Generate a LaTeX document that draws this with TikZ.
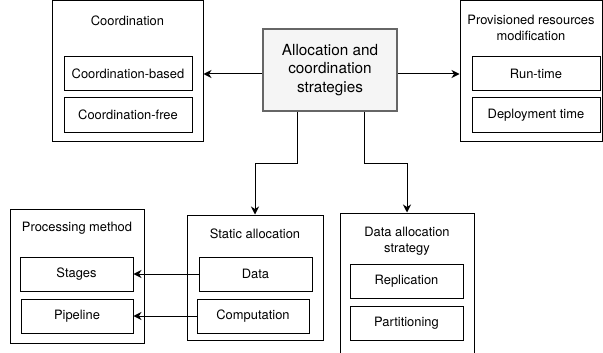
\documentclass[tikz,border=0pt]{standalone}
\usepackage{fontspec}
\setmainfont{TeX Gyre Heros}
\usetikzlibrary{arrows.meta}
\definecolor{hubfill}{HTML}{F5F5F5}
\definecolor{hubline}{HTML}{666666}
\tikzset{
  box/.style={draw=black, line width=1pt, rectangle, inner sep=0pt},
  item/.style={box, minimum width=113pt, minimum height=34pt,
    font=\fontsize{12.9}{15}\selectfont},
  group/.style={box},
  title/.style={font=\fontsize{12.9}{16}\selectfont, align=center, inner sep=0pt},
  hub/.style={draw=hubline, fill=hubfill, line width=2pt, rectangle,
    minimum width=134pt, minimum height=82pt, align=center,
    font=\fontsize{15.3}{18.5}\selectfont},
  arr/.style={draw=black, line width=1pt,
    -{Stealth[length=8pt, width=8pt, inset=2.5pt]}},
}
\begin{document}
\begin{tikzpicture}[x=1pt, y=-1pt]
\useasboundingbox (0,0) rectangle (603,353);

% central hub
\node[hub] (hub) at (330,70) {Allocation and\\coordination\\strategies};

% coordination group
\node[group, minimum width=151pt, minimum height=140pt] (coord) at (127.5,71) {};
\node[title] (coordT) at (127.5,21) {Coordination};
\node[item, minimum width=128pt] (cbased) at (128,74) {Coordination-based};
\node[item, minimum width=128pt] (cfree) at (128,115) {Coordination-free};

% provisioned resources group
\node[group, minimum width=142pt, minimum height=140pt] (prov) at (531,71) {};
\node[title] (provT) at (531,28) {Provisioned resources\\modification};
\node[item, minimum width=128pt] (run) at (536,74) {Run-time};
\node[item, minimum width=128pt] (deploy) at (536,115) {Deployment time};

% processing method group
\node[group, minimum width=134pt, minimum height=134pt] (proc) at (77,276) {};
\node[title] (procT) at (77,228) {Processing method};
\node[item] (stages) at (76.5,274) {Stages};
\node[item, minimum width=112pt] (pipe) at (77,316) {Pipeline};

% static allocation group
\node[group, minimum width=136pt, minimum height=125pt] (static) at (255,277.5) {};
\node[title] (staticT) at (255,234) {Static allocation};
\node[item] (data) at (255.5,274) {Data};
\node[item, minimum width=112pt] (comp) at (253,316) {Computation};

% data allocation strategy group (runs past the lower edge)
\node[group, minimum width=134pt, minimum height=160pt] (dalloc) at (407,293) {};
\node[title] (dallocT) at (407,241) {Data allocation\\strategy};
\node[item] (repl) at (406.5,281) {Replication};
\node[item] (part) at (406.5,323) {Partitioning};

% connectors
\coordinate (jl) at (297,163);
\coordinate (jr) at (364,163);
\draw[arr] (hub.west |- cbased) -- (coord.east |- cbased);
\draw[arr] (hub.east |- cbased) -- (prov.west |- cbased);
\draw[arr] (hub.south -| jl) -- (jl) -| (static.north);
\draw[arr] (hub.south -| jr) -- (jr) -| (dalloc.north);
\draw[arr] (data.west) -- (stages.east);
\draw[arr] (comp.west) -- (pipe.east);
\end{tikzpicture}
\end{document}
